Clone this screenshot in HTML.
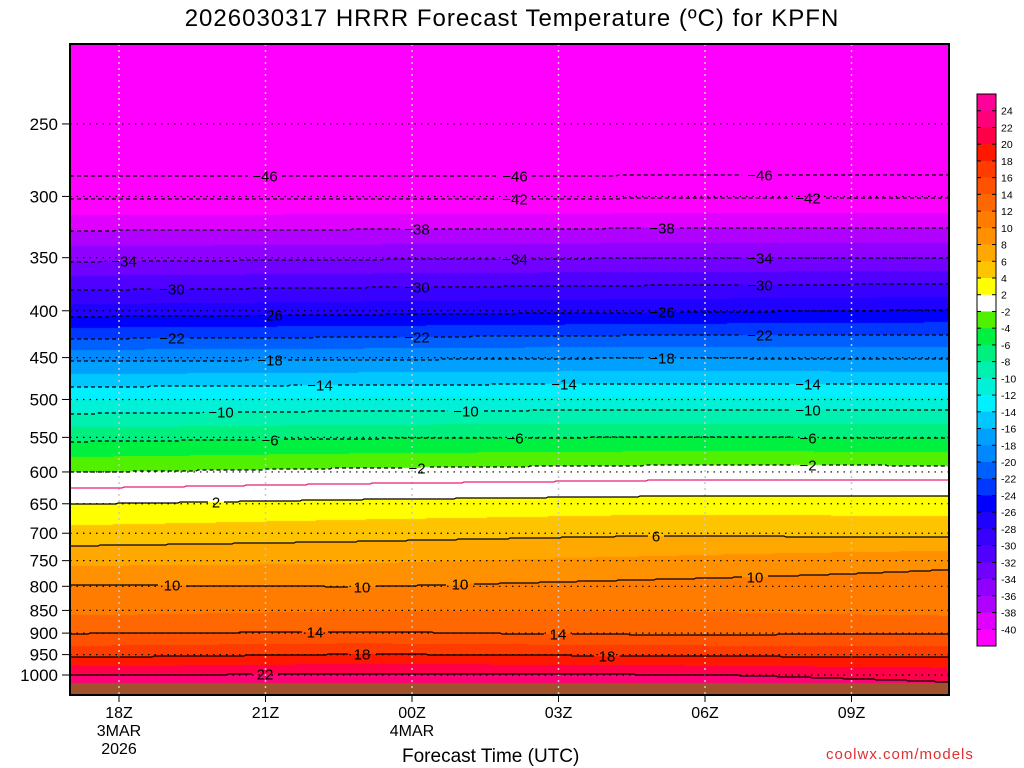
<!DOCTYPE html>
<html><head><meta charset="utf-8"><style>
html,body{margin:0;padding:0;background:#fff;width:1024px;height:768px;overflow:hidden}
#wrap{position:relative;width:1024px;height:768px;font-family:"Liberation Sans",sans-serif}
canvas,svg{position:absolute;left:0;top:0}
</style></head><body><div id="wrap">
<canvas id="cv" width="1024" height="768"></canvas>
<svg id="sv" width="1024" height="768"></svg>
</div>
<script>
const levels=[200,250,275,300,350,400,450,500,550,600,650,700,750,800,850,900,950,1000,1050];
const hours=[0,6,12,18];
const temp17Z=[-52,-51,-48.5,-42.3,-34.5,-27,-18.5,-12,-6.5,-2,2,4.8,7.5,10.2,11.5,14,17.5,22,24];
const temp23Z=[-52,-51,-48.5,-42.3,-34.2,-26.6,-18.3,-11.6,-6.1,-1.4,2.6,5.3,7.8,10,12,14.2,18.2,22.4,24];
const temp05Z=[-52,-51,-48.3,-42.2,-34,-26.2,-18,-11.5,-5.9,-1,3,5.8,8.5,10.6,12,13.8,17.8,22.2,24];
const temp11Z=[-51,-50,-48.2,-42.2,-34,-25.8,-18.2,-11.5,-6,-1,3,5.5,9.5,11,11.5,13.9,17.6,21.5,23];
const series=[temp17Z,temp23Z,temp05Z,temp11Z];
const yTicks=[250,300,350,400,450,500,550,600,650,700,750,800,850,900,950,1000];
const xTickHours=[1,4,7,10,13,16];
const xTickLabels=[["18Z","3MAR","2026"],["21Z"],["00Z","4MAR"],["03Z"],["06Z"],["09Z"]];
const contourLevels=[-46,-42,-38,-34,-30,-26,-22,-18,-14,-10,-6,-2,0,2,6,10,14,18,22];
const cbLabels=[24,22,20,18,16,14,12,10,8,6,4,2,-2,-4,-6,-8,-10,-12,-14,-16,-18,-20,-22,-24,-26,-28,-30,-32,-34,-36,-38,-40];
const cbColors=["#ff0098","#ff0078","#ff0048","#ff1800","#ff3c00","#ff5200","#ff6800","#ff7c00","#ff9000","#ffa800","#ffc400","#ffff00","#ffffff","#50f000","#00f040","#00f080","#00f0b0","#00f0d8","#00f0ff","#00c8ff","#00a0ff","#0088ff","#0060ff","#0038ff","#0000ff","#2000ff","#3800ff","#5000ff","#7000ff","#9000ff","#b000ff","#e000ff","#ff00ff"];
const cbBounds=[Infinity,24,22,20,18,16,14,12,10,8,6,4,2,-2,-4,-6,-8,-10,-12,-14,-16,-18,-20,-22,-24,-26,-28,-30,-32,-34,-36,-38,-40,-Infinity];

const X0=70,X1=949,Y0=44,Y1=695,GROUND=683;
const xOf=h=>119+(h-1)*(146.5/3);
const hOf=x=>1+(x-119)/(146.5/3);
const yOf=p=>675-397.5*Math.log(1000/p);
const pOf=y=>1000*Math.exp(-(675-y)/397.5);
function tempAt(x,y){
  const h=Math.max(0,Math.min(18,hOf(x))),p=pOf(y);
  let i=0;while(i<hours.length-2&&h>hours[i+1])i++;
  const fh=(h-hours[i])/(hours[i+1]-hours[i]);
  const lp=Math.log(p);let j=0;while(j<levels.length-2&&p>levels[j+1])j++;
  let fp=(lp-Math.log(levels[j]))/(Math.log(levels[j+1])-Math.log(levels[j]));
  fp=Math.max(0,Math.min(1,fp));
  const a=series[i][j]+(series[i][j+1]-series[i][j])*fp;
  const b=series[i+1][j]+(series[i+1][j+1]-series[i+1][j])*fp;
  return a+(b-a)*fh;
}
function colorFor(t){for(let k=0;k<cbColors.length;k++){if(t<=cbBounds[k]&&t>cbBounds[k+1])return cbColors[k];}return cbColors[cbColors.length-1];}
function hexRGB(c){return [parseInt(c.substr(1,2),16),parseInt(c.substr(3,2),16),parseInt(c.substr(5,2),16)];}
const cv=document.getElementById('cv'),ctx=cv.getContext('2d');
const img=ctx.createImageData(X1-X0,Y1-Y0);
for(let y=Y0;y<Y1;y++)for(let x=X0;x<X1;x++){
  let rgb=y>=GROUND?[160,82,45]:hexRGB(colorFor(tempAt(x,y)));
  const o=((y-Y0)*(X1-X0)+(x-X0))*4;img.data[o]=rgb[0];img.data[o+1]=rgb[1];img.data[o+2]=rgb[2];img.data[o+3]=255;}
ctx.putImageData(img,X0,Y0);

const NS="http://www.w3.org/2000/svg",sv=document.getElementById('sv');
function mk(tag,at,parent){const e=document.createElementNS(NS,tag);for(const k in at)e.setAttribute(k,at[k]);(parent||sv).appendChild(e);return e;}
yTicks.forEach(p=>{const l=mk('line',{x1:X0,x2:X1,y1:yOf(p),y2:yOf(p),stroke:'#000','stroke-width':1.2,'stroke-dasharray':'1.5 5'});

});
xTickHours.forEach(h=>{const l=mk('line',{x1:xOf(h),x2:xOf(h),y1:Y0,y2:Y1,stroke:'#c8c8c8','stroke-width':1.5,'stroke-dasharray':'2 4'});

});
const labelSpots={"-46":[265,515,760],"-42":[515,808],"-38":[417,662],"-34":[124,515,760],"-30":[172,417,760],"-26":[270,662],"-22":[172,417,760],"-18":[270,662],"-14":[320,564,808],"-10":[221,466,808],"-6":[270,515,808],"-2":[417,808],"0":[],"2":[216],"6":[656],"10":[172,362,460,755],"14":[315,558],"18":[362,607],"22":[265]};
contourLevels.forEach(lv=>{
  const spots=labelSpots[String(lv)]||[];
  const txt=lv<0?'\u2212'+(-lv):String(lv);const half=txt.length*4.6+3;
  let segs=[[]],all=[];
  for(let x=X0;x<=X1;x+=2){let yy=null;for(let y=150;y<GROUND;y++){if(tempAt(x,y)>=lv){yy=y;break;}}
    if(yy===null)continue;all.push([x,yy]);
    if(spots.some(s=>Math.abs(x-s)<half)){if(segs[segs.length-1].length)segs.push([]);}else segs[segs.length-1].push([x,yy]);}
  const col=lv===0?'#e8207a':'#000';
  segs.filter(s=>s.length>1).forEach(s=>{
    const pl=mk('polyline',{points:s.map(p=>p.join(',')).join(' '),fill:'none',stroke:col,'stroke-width':lv===0?1.3:1.2,'stroke-dasharray':lv<0?'4 3':'none'});
    
    });
  spots.forEach(lx=>{if(!all.length)return;const pt=all.reduce((a,b)=>Math.abs(b[0]-lx)<Math.abs(a[0]-lx)?b:a);
    const t=mk('text',{x:lx,y:pt[1]+5.5,'text-anchor':'middle','font-size':15,fill:'#000'});t.textContent=txt;
    
    });
});
const fr=mk('rect',{x:X0,y:Y0,width:X1-X0,height:Y1-Y0,fill:'none',stroke:'#000','stroke-width':2});


yTicks.forEach(p=>{mk('line',{x1:62,x2:X0,y1:yOf(p),y2:yOf(p),stroke:'#000'});
 const t=mk('text',{x:58,y:yOf(p)+6,'text-anchor':'end','font-size':17,fill:'#000'});t.textContent=p;
 
 });
xTickHours.forEach((h,i)=>{mk('line',{x1:xOf(h),x2:xOf(h),y1:Y1,y2:Y1+7,stroke:'#000'});
 xTickLabels[i].forEach((s,k)=>{const t=mk('text',{x:xOf(h),y:718+k*18,'text-anchor':'middle','font-size':16,fill:'#000'});t.textContent=s;
 
 });});
const cbTop=94,cbH=(646-94)/cbColors.length;
cbColors.forEach((c,k)=>{const r=mk('rect',{x:977,y:cbTop+k*cbH,width:19,height:cbH+0.3,fill:c});
 
 });
mk('rect',{x:977,y:cbTop,width:19,height:646-94,fill:'none',stroke:'#000','stroke-width':1});
cbLabels.forEach((v,k)=>{const y=cbTop+(k+1)*cbH;
 mk('line',{x1:977,x2:981,y1:y,y2:y,stroke:'#000'});mk('line',{x1:992,x2:996,y1:y,y2:y,stroke:'#000'});
 const t=mk('text',{x:1001,y:y+4,'font-size':10.5,fill:'#000'});t.textContent=v;
 
 });
</script>
<div style="position:absolute;left:0;width:1024px;top:5px;text-align:center;font-family:'Liberation Sans',sans-serif;font-size:24px;letter-spacing:1px;color:#000">2026030317 HRRR Forecast Temperature (ºC) for KPFN</div>
<div style="position:absolute;left:402px;top:746px;font-family:'Liberation Sans',sans-serif;font-size:19px;color:#000">Forecast Time (UTC)</div>
<div style="position:absolute;left:826px;top:746px;font-family:'Liberation Sans',sans-serif;font-size:15px;letter-spacing:1px;color:#e03030">coolwx.com/models</div>
</body></html>
